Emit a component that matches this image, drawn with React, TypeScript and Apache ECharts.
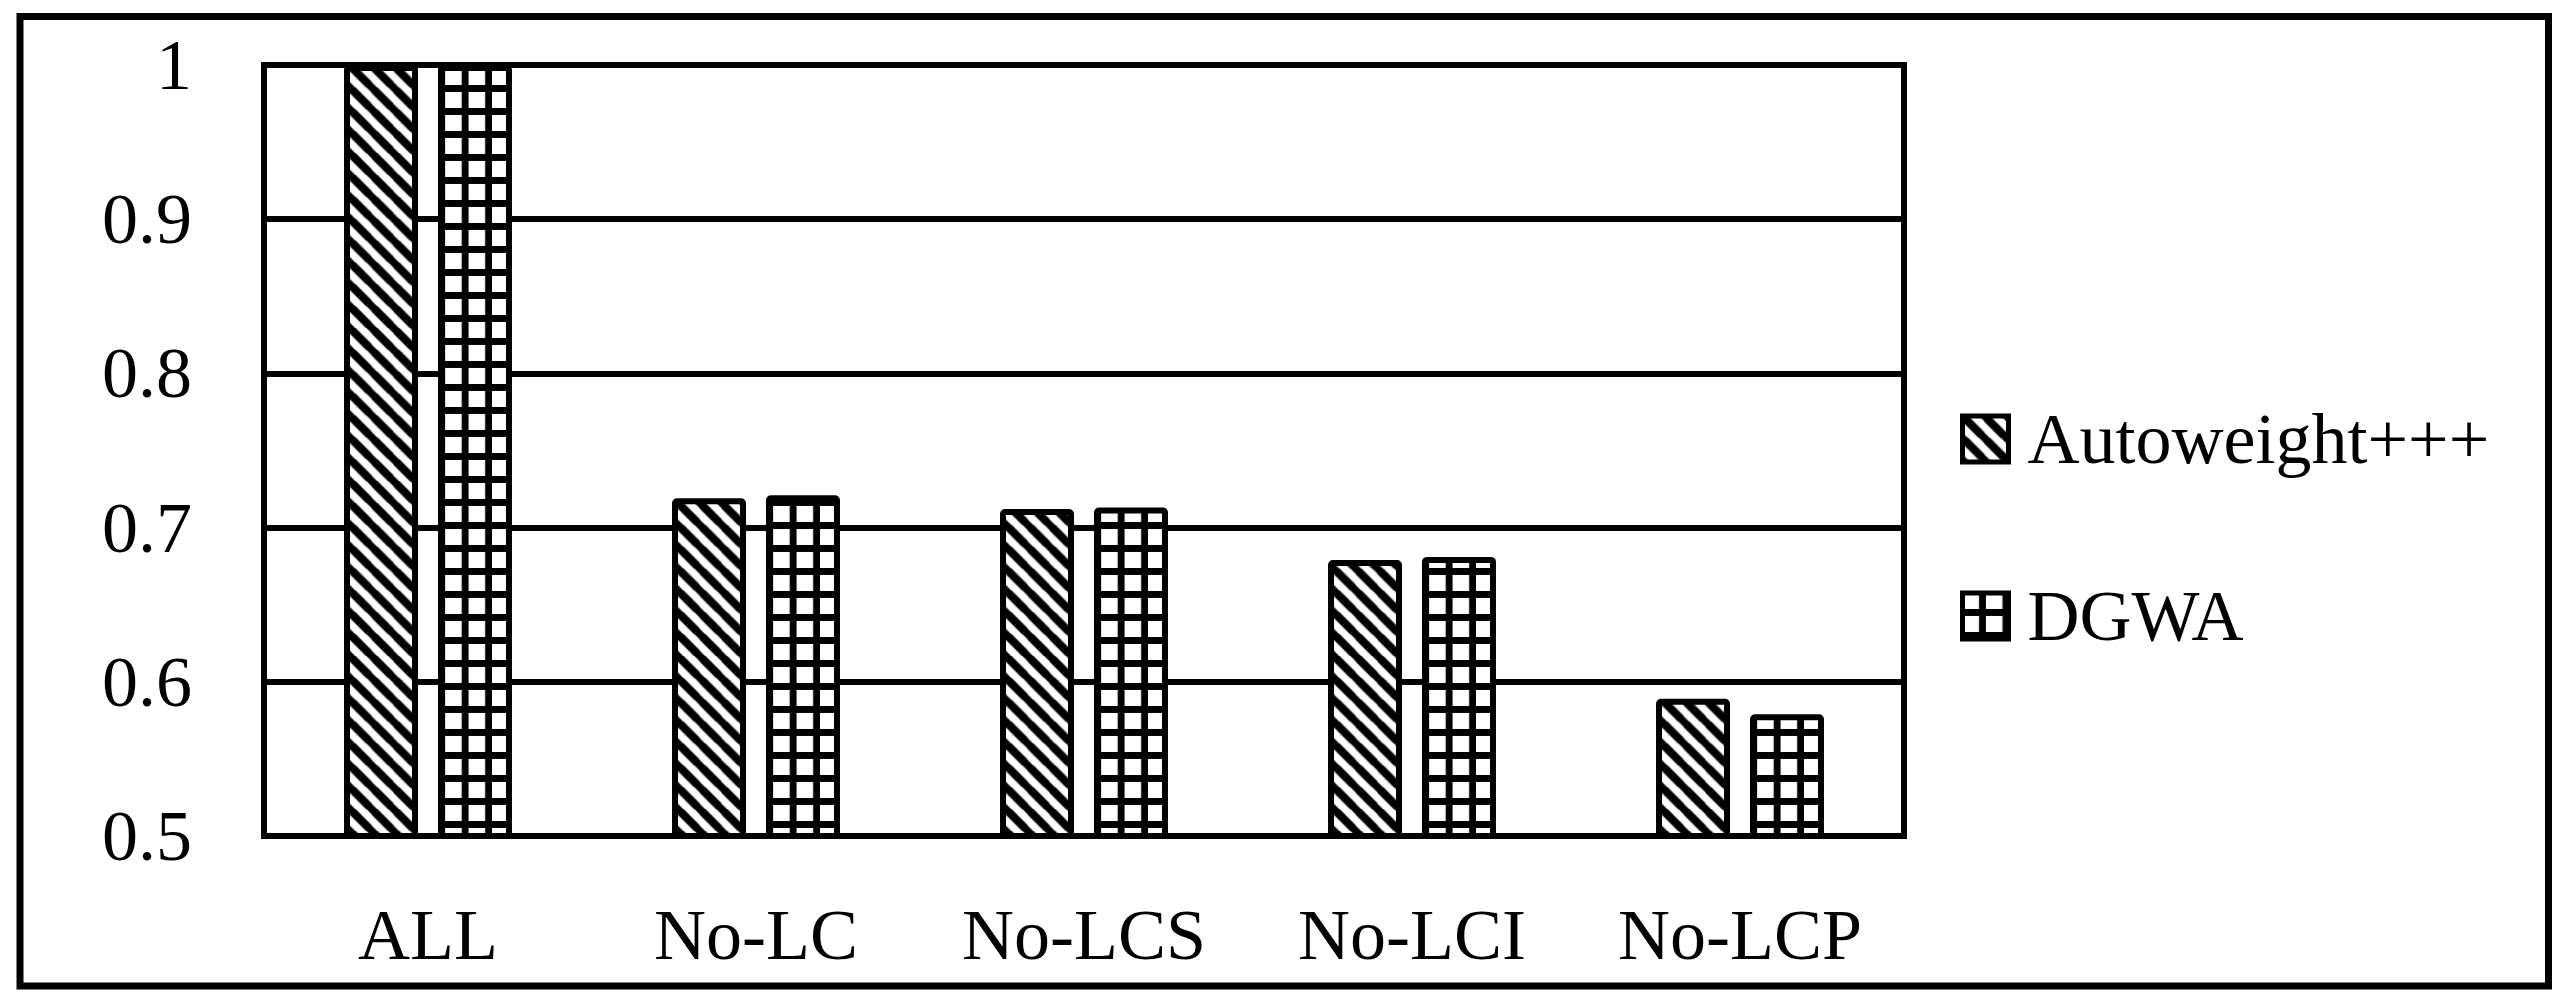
import React, { useEffect, useRef } from "react";
import * as echarts from "echarts";

const categories = ["ALL", "No-LC", "No-LCS", "No-LCI", "No-LCP"];
const seriesNames = ["Autoweight+++", "DGWA"];
const autoweightValues = [1.0, 0.719, 0.712, 0.679, 0.589];
const dgwaValues = [1.0, 0.721, 0.713, 0.681, 0.579];
const yMin = 0.5;
const yMax = 1.0;
const yStep = 0.1;

const FONT = "'Liberation Serif', 'Times New Roman', serif";

// layout (pixels)
const GRID_LEFT = 264;
const GRID_TOP = 65;
const GRID_W = 1640;
const GRID_H = 771;
const BAR_W = 74;
const BAR_BORDER = 6;

function stripePattern(P: number) {
  const s = 4;
  const n = Math.round(P * s);
  const c = document.createElement("canvas");
  c.width = n;
  c.height = n;
  const ctx = c.getContext("2d")!;
  ctx.fillStyle = "#fff";
  ctx.fillRect(0, 0, n, n);
  ctx.strokeStyle = "#000";
  ctx.lineWidth = (n / Math.SQRT2) * 0.52;
  for (const k of [-2 * n, -n, 0, n, 2 * n]) {
    ctx.beginPath();
    ctx.moveTo(k - n, -n);
    ctx.lineTo(k + 2 * n, 2 * n);
    ctx.stroke();
  }
  return {
    image: c.toDataURL(),
    repeat: "repeat",
    imageWidth: P,
    imageHeight: P,
  } as any;
}

function gridPattern(Px: number, Py: number, L: number, ox: number, oy: number) {
  const s = 4;
  const w = Math.round(Px * s);
  const h = Math.round(Py * s);
  const c = document.createElement("canvas");
  c.width = w;
  c.height = h;
  const ctx = c.getContext("2d")!;
  ctx.fillStyle = "#fff";
  ctx.fillRect(0, 0, w, h);
  ctx.fillStyle = "#000";
  ctx.fillRect(w - L * s, 0, L * s, h);
  ctx.fillRect(0, h - L * s, w, L * s);
  return {
    image: c.toDataURL(),
    repeat: "repeat",
    imageWidth: Px,
    imageHeight: Py,
    x: ox,
    y: oy,
  } as any;
}

export default function App() {
  const ref = useRef<HTMLDivElement>(null);

  useEffect(() => {
    if (!ref.current) return;
    const chart = echarts.init(ref.current, null, { renderer: "svg" });
    const catW = GRID_W / categories.length;
    const stripe = stripePattern(catW / 15);
    const gridFill = gridPattern(catW / 14, 23, 7, GRID_LEFT + catW / 2 + 13, GRID_TOP + GRID_H);

    const barStyle = (fill: any) => ({
      color: fill,
      borderColor: "#000",
      borderWidth: BAR_BORDER,
      borderRadius: 2,
    });

    chart.setOption({
      animation: false,
      backgroundColor: "#fff",
      grid: {
        left: GRID_LEFT,
        top: GRID_TOP,
        width: GRID_W,
        height: GRID_H,
        show: true,
        borderColor: "#000",
        borderWidth: 6,
        backgroundColor: "transparent",
      },
      legend: {
        orient: "vertical",
        left: 1955,
        top: 398,
        itemWidth: 46,
        itemHeight: 46,
        itemGap: 105,
        icon: "rect",
        selectedMode: false,
        itemStyle: { borderColor: "#000", borderWidth: 5 },
        textStyle: {
          fontFamily: FONT,
          fontSize: 72,
          color: "#000",
          padding: [0, 0, 0, 14],
        },
        data: seriesNames,
      },
      xAxis: {
        type: "category",
        data: categories,
        axisLine: { show: true, lineStyle: { color: "#000", width: 6 } },
        axisTick: { show: false },
        splitLine: { show: false },
        axisLabel: {
          fontFamily: FONT,
          fontSize: 72,
          color: "#000",
          margin: 63,
        },
      },
      yAxis: {
        type: "value",
        min: yMin,
        max: yMax,
        interval: yStep,
        axisLine: { show: true, lineStyle: { color: "#000", width: 6 } },
        axisTick: { show: false },
        splitLine: { show: true, lineStyle: { color: "#000", width: 6 } },
        axisLabel: {
          fontFamily: FONT,
          fontSize: 72,
          color: "#000",
          margin: 72,
        },
      },
      graphic: [
        {
          type: "rect",
          shape: { x: 20, y: 16.5, width: 2528.5, height: 969.5 },
          style: { fill: "none", stroke: "#000", lineWidth: 7 },
          silent: true,
          z: 100,
        },
      ],
      series: [
        {
          name: seriesNames[0],
          type: "bar",
          data: autoweightValues,
          barWidth: BAR_W,
          barGap: "27%",
          itemStyle: barStyle(stripe),
        },
        {
          name: seriesNames[1],
          type: "bar",
          data: dgwaValues,
          barWidth: BAR_W,
          barGap: "27%",
          itemStyle: barStyle(gridFill),
        },
      ],
    });

    return () => chart.dispose();
  }, []);

  return (
    <div
      ref={ref}
      style={{ position: "fixed", left: 0, top: 0, width: 2570, height: 1005, background: "#fff" }}
    />
  );
}
